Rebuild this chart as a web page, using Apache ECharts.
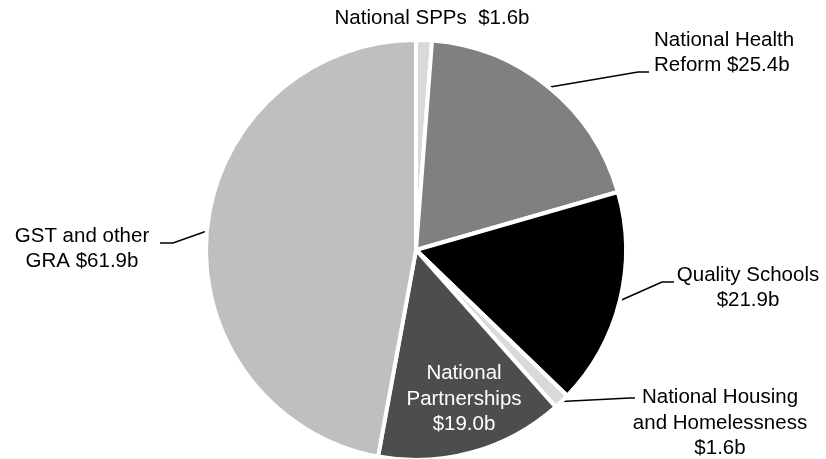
<!DOCTYPE html>
<html><head><meta charset="utf-8">
<script src="https://cdn.jsdelivr.net/npm/echarts@6/dist/echarts.min.js"></script>
<style>html,body{margin:0;padding:0;background:#fff}#c{width:826px;height:459px}</style>
</head><body><div id="c"></div>
<script>
const categories = ['National SPPs', 'National Health Reform', 'Quality Schools', 'National Housing and Homelessness', 'National Partnerships', 'GST and other GRA'];
const values = [1.6, 25.4, 21.9, 1.6, 19.0, 61.9];
const labelTexts = ['National SPPs  $1.6b', 'National Health\nReform $25.4b', 'Quality Schools\n$21.9b', 'National Housing\nand Homelessness\n$1.6b', 'National\nPartnerships\n$19.0b', 'GST and other\nGRA $61.9b'];
const colors = ['#d9d9d9', '#808080', '#000000', '#d9d9d9', '#4d4d4d', '#bfbfbf'];

const chart = echarts.init(document.getElementById('c'));
const font = 'Liberation Sans, Arial, sans-serif';
const data = categories.map((n, i) => {
  const d = { name: n, value: values[i], itemStyle: { color: colors[i] } };
  if (i === 4) {
    d.label = { position: 'inside', color: '#ffffff' };
    d.labelLine = { show: false };
  } else if (i === 0) {
    d.labelLine = { show: false };
  }
  return d;
});

const labelPos = [
  { x: 432, y: 18, align: 'center' },
  { x: 654, y: 53, align: 'left' },
  { x: 748, y: 288, align: 'center' },
  { x: 720, y: 423, align: 'center' },
  { x: 464, y: 399, align: 'center' },
  { x: 82, y: 249, align: 'center' }
];
// leader line bends / ends (after the slice edge point)
const leaderEnds = [
  null,
  [[638, 72], [649, 72]],
  [[662, 282], [674, 282]],
  [[630, 398], [635, 398]],
  null,
  [[173, 243], [160, 243]]
];

chart.setOption({
  animation: false,
  series: [{
    type: 'pie',
    center: [416, 250],
    radius: [0, 210],
    startAngle: 90,
    clockwise: true,
    data: data,
    itemStyle: { borderColor: '#ffffff', borderWidth: 4 },
    label: {
      formatter: p => labelTexts[p.dataIndex],
      fontFamily: font,
      fontSize: 20.5,
      color: '#000000',
      lineHeight: 25.5
    },
    labelLine: { show: true, length: 30, length2: 15, lineStyle: { color: '#000', width: 1.6 } },
    labelLayout: function (p) {
      const i = p.dataIndex;
      const r = Object.assign({ verticalAlign: 'middle' }, labelPos[i]);
      if (leaderEnds[i] && p.labelLinePoints) {
        r.labelLinePoints = [p.labelLinePoints[0]].concat(leaderEnds[i]);
      }
      return r;
    }
  }]
});
</script></body></html>
